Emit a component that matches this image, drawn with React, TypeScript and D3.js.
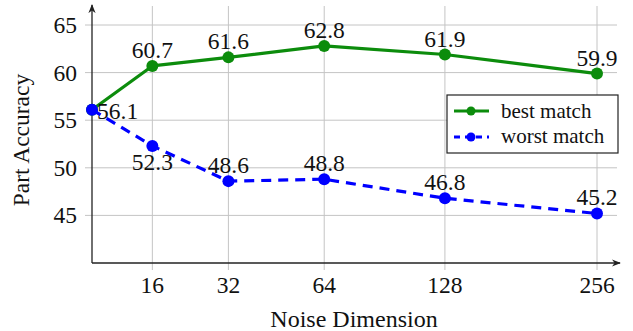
import React from 'react';
import * as d3 from 'd3';

const dims = [8, 16, 32, 64, 128, 256];
const tickDims = [16, 32, 64, 128, 256];
const bestMatch = [56.1, 60.7, 61.6, 62.8, 61.9, 59.9];
const worstMatch = [56.1, 52.3, 48.6, 48.8, 46.8, 45.2];
const yTicks = [45, 50, 55, 60, 65];
// where each worst-match label sits relative to its point
const worstLabelPos = ['right', 'below', 'above', 'above', 'above', 'above'];

const W = 633;
const H = 331;
const FONT = '"Liberation Serif", "Times New Roman", serif';

const App = () => {
  const x = d3.scalePow().exponent(1 / 3).domain([8, 256]).range([92, 597]);
  const y = d3.scaleLinear().domain([40, 65]).range([263, 25]);
  const x0 = 92;
  const xEnd = 617;
  const y0 = 263;
  const yTop = 6;

  const line = d3.line<number>()
    .x((_, i) => x(dims[i]))
    .y(d => y(d));

  const green = '#0c8c0c';
  const blue = '#0000ff';
  const grid = '#c4c4c4';
  const axisCol = '#222';
  const fs = 23.5;

  return (
    <svg width={W} height={H} style={{ position: 'absolute', left: 0, top: 0, background: '#fff' }}
      fontFamily={FONT}>
      <defs>
        <marker id="arr" viewBox="0 0 10 10" refX="9" refY="5" markerWidth="9" markerHeight="9"
          orient="auto" markerUnits="userSpaceOnUse">
          <path d="M0,1 L10,5 L0,9 L3,5 Z" fill={axisCol} />
        </marker>
      </defs>

      {/* grid */}
      {yTicks.map(t => (
        <line key={'gy' + t} x1={x0 - 7} x2={xEnd} y1={y(t)} y2={y(t)} stroke={grid} strokeWidth={1} />
      ))}
      {tickDims.map(t => (
        <line key={'gx' + t} x1={x(t)} x2={x(t)} y1={yTop} y2={y0 + 7} stroke={grid} strokeWidth={1} />
      ))}

      {/* axes */}
      <line x1={x0} x2={x0} y1={y0} y2={yTop - 1} stroke={axisCol} strokeWidth={1.3} markerEnd="url(#arr)" />
      <line x1={x0} x2={xEnd + 3} y1={y0} y2={y0} stroke={axisCol} strokeWidth={1.3} markerEnd="url(#arr)" />

      {yTicks.map(t => (
        <text key={'ty' + t} x={77} y={y(t)} dy="0.34em" textAnchor="end" fontSize={fs} fill="#111">{t}</text>
      ))}
      {tickDims.map(t => (
        <text key={'tx' + t} x={x(t)} y={293} textAnchor="middle" fontSize={fs} fill="#111">{t}</text>
      ))}

      <text x={354} y={327} textAnchor="middle" fontSize={fs + 0.5} fill="#111">Noise Dimension</text>
      <text transform="translate(29,140) rotate(-90)" textAnchor="middle" fontSize={fs} fill="#111">Part Accuracy</text>

      {/* series */}
      <path d={line(bestMatch) ?? ''} fill="none" stroke={green} strokeWidth={3.2} strokeLinejoin="round" />
      {bestMatch.map((v, i) => (
        <circle key={'bc' + i} cx={x(dims[i])} cy={y(v)} r={6} fill={green} />
      ))}
      <path d={line(worstMatch) ?? ''} fill="none" stroke={blue} strokeWidth={3.2} strokeDasharray="10,7" />
      {worstMatch.map((v, i) => (
        <circle key={'wc' + i} cx={x(dims[i])} cy={y(v)} r={6} fill={blue} />
      ))}

      {/* value labels */}
      {bestMatch.map((v, i) => i === 0 ? null : (
        <text key={'bl' + i} x={x(dims[i])} y={y(v) - 8} textAnchor="middle" fontSize={fs} fill="#111">
          {v.toFixed(1)}
        </text>
      ))}
      {worstMatch.map((v, i) => {
        const pos = worstLabelPos[i];
        const px = x(dims[i]);
        const py = y(v);
        if (pos === 'right') {
          return <text key={'wl' + i} x={px + 5} y={py} dy="0.38em" fontSize={fs} fill="#111">{v.toFixed(1)}</text>;
        }
        if (pos === 'below') {
          return <text key={'wl' + i} x={px} y={py + 24} textAnchor="middle" fontSize={fs} fill="#111">{v.toFixed(1)}</text>;
        }
        return <text key={'wl' + i} x={px} y={py - 8} textAnchor="middle" fontSize={fs} fill="#111">{v.toFixed(1)}</text>;
      })}

      {/* legend */}
      <g>
        <rect x={447} y={95} width={171} height={58} fill="#fff" stroke={axisCol} strokeWidth={1.2} />
        <line x1={454} x2={489} y1={111} y2={111} stroke={green} strokeWidth={3} />
        <circle cx={471} cy={111} r={4.5} fill={green} />
        <text x={501} y={118} fontSize={21} fill="#111">best match</text>
        <line x1={454} x2={489} y1={137} y2={137} stroke={blue} strokeWidth={3} strokeDasharray="6,5" />
        <circle cx={471} cy={137} r={4.5} fill={blue} />
        <text x={501} y={143} fontSize={21} fill="#111">worst match</text>
      </g>
    </svg>
  );
};

export default App;
